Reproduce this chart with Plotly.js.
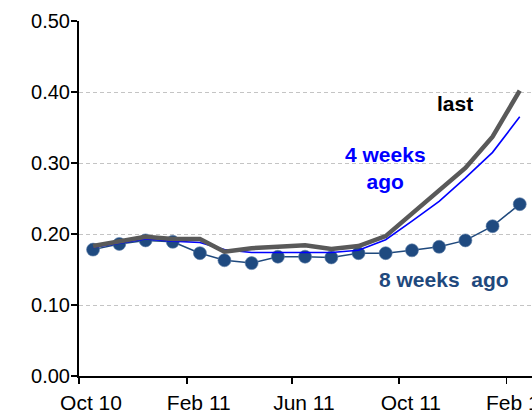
<!DOCTYPE html>
<html>
<head>
<meta charset="utf-8">
<script src="https://cdn.plot.ly/plotly-3.0.1.min.js"></script>
<style>html,body{margin:0;padding:0;background:#fff;}#chart{width:532px;height:416px;}</style>
</head>
<body>
<div id="chart"></div>
<script>
const months = ["2010-10-17","2010-11-16","2010-12-16","2011-01-16","2011-02-16","2011-03-16","2011-04-16","2011-05-16","2011-06-16","2011-07-16","2011-08-16","2011-09-16","2011-10-16","2011-11-16","2011-12-16","2012-01-16","2012-02-16"];
const last = [0.183,0.189,0.196,0.193,0.193,0.175,0.180,0.182,0.184,0.179,0.183,0.197,0.228,0.262,0.293,0.337,0.402];
const weeks4 = [0.181,0.187,0.193,0.190,0.188,0.178,0.174,0.174,0.174,0.174,0.177,0.192,0.218,0.246,0.279,0.315,0.365];
const weeks8 = [0.178,0.186,0.191,0.189,0.173,0.163,0.159,0.168,0.168,0.167,0.173,0.173,0.177,0.182,0.191,0.211,0.242];
const yTicks = [0,0.1,0.2,0.3,0.4,0.5];
const yTickText = ["0.00","0.10","0.20","0.30","0.40","0.50"];

const font = "Arial, 'Liberation Sans', sans-serif";
const navy = "#1f497d";

const traces = [
  {x: months, y: weeks8, type: "scatter", mode: "lines+markers", name: "8 weeks ago",
   line: {color: navy, width: 1.5},
   marker: {symbol: "circle", size: 13, color: "#1f4a80", line: {color: "#5f7fa8", width: 0.6}}},
  {x: months, y: weeks4, type: "scatter", mode: "lines", name: "4 weeks ago",
   line: {color: "#0000ff", width: 1.6}},
  {x: months, y: last, type: "scatter", mode: "lines", name: "last",
   line: {color: "#595959", width: 4.5}}
];

const layout = {
  width: 532, height: 416,
  margin: {l: 79, r: 0, t: 21, b: 40},
  paper_bgcolor: "#fff", plot_bgcolor: "#fff",
  showlegend: false,
  font: {family: font, size: 20, color: "#000"},
  xaxis: {
    type: "date", range: ["2010-10-01", "2012-03-01"],
    tick0: "2010-10-01", dtick: "M4", tickformat: "%b %y",
    showgrid: false, zeroline: false,
    showline: true, linecolor: "#000", linewidth: 2,
    ticks: "outside", ticklen: 6, tickwidth: 1.5, tickcolor: "#000",
    ticklabeloverflow: "allow", ticklabelstandoff: 1, ticklabelshift: 12,
    tickfont: {family: font, size: 21, color: "#000"}
  },
  yaxis: {
    range: [0, 0.5], tickvals: yTicks, ticktext: yTickText,
    showgrid: true, gridcolor: "#c4c4c4", griddash: "4px,3px", gridwidth: 1,
    zeroline: false,
    showline: true, linecolor: "#000", linewidth: 2,
    ticks: "outside", ticklen: 6, tickwidth: 1.5, tickcolor: "#000",
    ticklabelstandoff: -3,
    tickfont: {family: font, size: 20, color: "#000"}
  },
  annotations: [
    {xref: "paper", yref: "paper", x: 0.830, y: 0.769, xanchor: "center", yanchor: "middle",
     text: "<b>last</b>", showarrow: false,
     font: {family: font, size: 21, color: "#000"}},
    {xref: "paper", yref: "paper", x: 0.677, y: 0.587, xanchor: "center", yanchor: "middle",
     text: "<b>4 weeks<br>ago</b>", showarrow: false,
     font: {family: font, size: 21, color: "#0000ff"}},
    {xref: "paper", yref: "paper", x: 0.806, y: 0.273, xanchor: "center", yanchor: "middle",
     text: "<b>8 weeks\u00a0 ago</b>", showarrow: false,
     font: {family: font, size: 21, color: navy}}
  ]
};

Plotly.newPlot("chart", traces, layout, {displayModeBar: false, staticPlot: true});
</script>
</body>
</html>
